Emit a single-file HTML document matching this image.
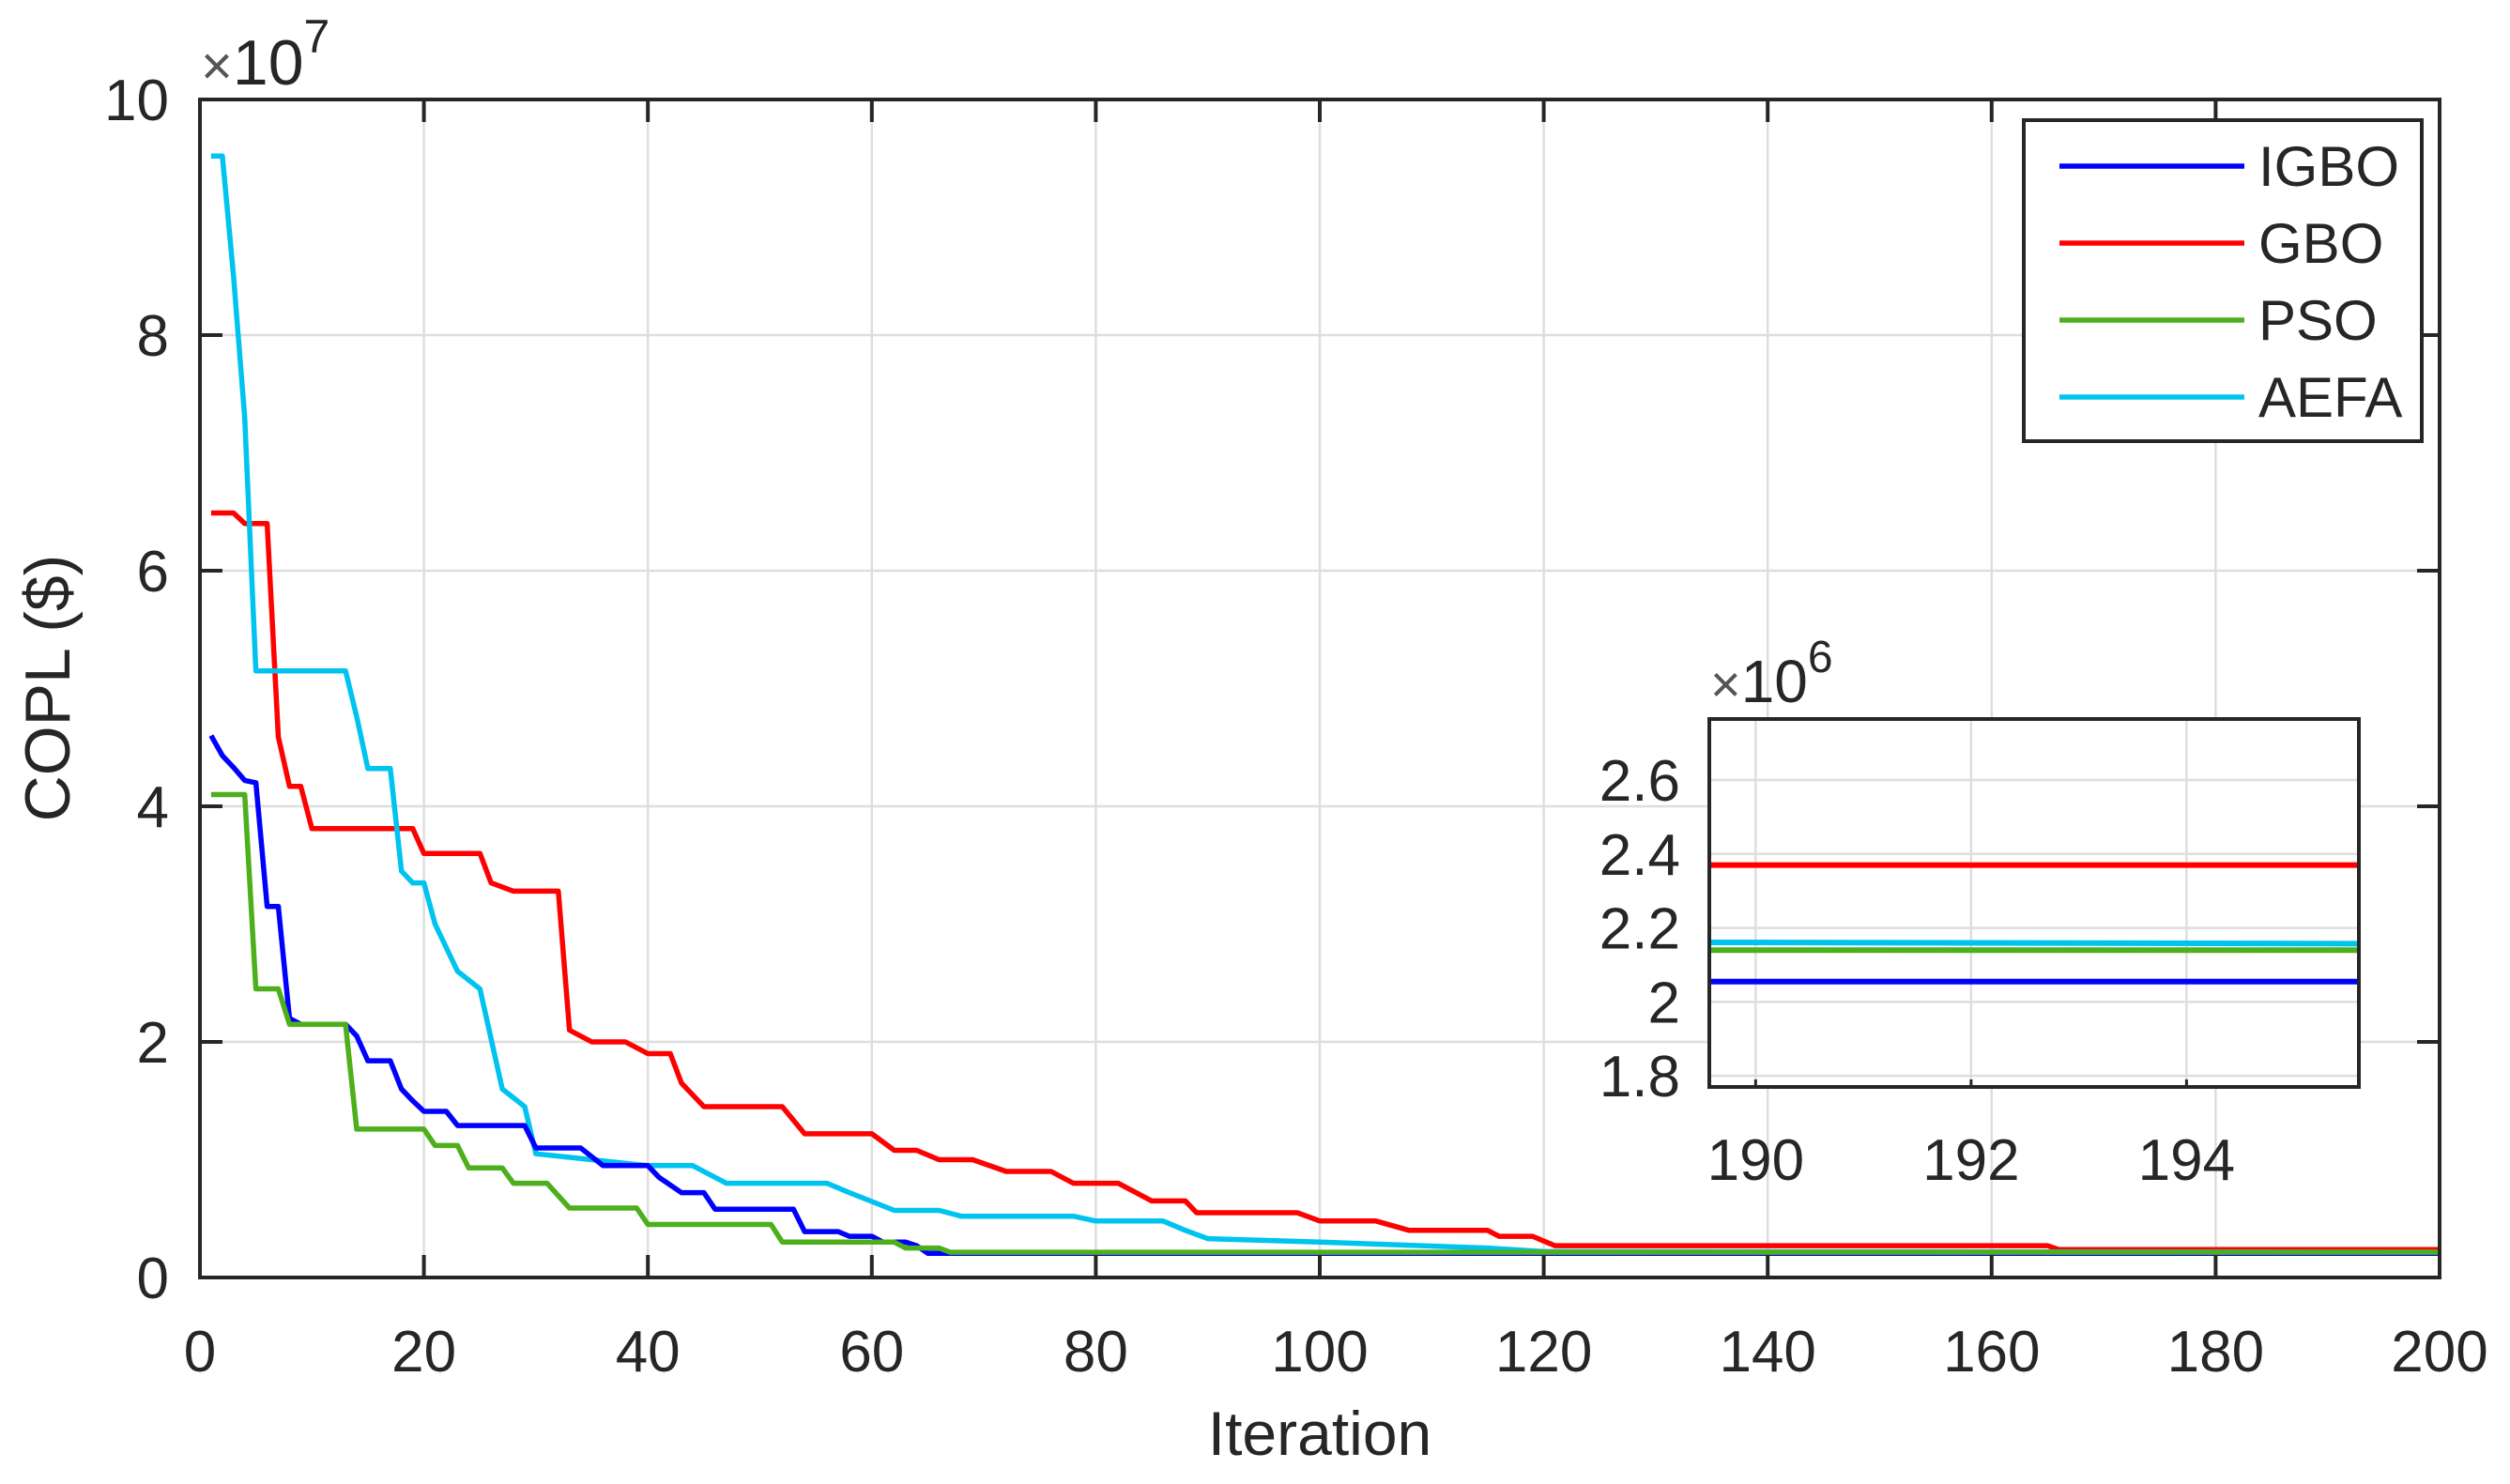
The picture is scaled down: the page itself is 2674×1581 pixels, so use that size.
<!DOCTYPE html>
<html><head><meta charset="utf-8"><style>
html,body{margin:0;padding:0;background:#fff;}
svg{display:block;font-family:"Liberation Sans",Arial,sans-serif;}
</style></head><body>
<svg id="chart" width="2674" height="1581" viewBox="0 0 2674 1581" xmlns="http://www.w3.org/2000/svg">
<rect x="0" y="0" width="2674" height="1581" fill="#fff"/>
<g id="grid"></g>
<g id="series"></g>
<g id="axes"></g>
<g id="inset"></g>
<g id="legend"></g>
</svg>
<script>
// ---- data (values in units of 1e7) ----
const xTicks = [0,20,40,60,80,100,120,140,160,180,200];
const yTicks = [0,2,4,6,8,10];
const seriesNames = ["IGBO","GBO","PSO","AEFA"];
const seriesColors = ["#0000ff","#ff0000","#4daf1c","#00c3f0"];
const igboIter = [1,2,3,4,5,6,7,8,9,13,14,15,17,18,19,20,22,23,29,30,34,36,40,41,43,45,46,53,54,57,58,60,61,63,64,65,200];
const igboVal  = [4.6,4.43,4.33,4.22,4.2,3.15,3.15,2.2,2.15,2.15,2.05,1.84,1.84,1.6,1.5,1.41,1.41,1.29,1.29,1.1,1.1,0.95,0.95,0.85,0.72,0.72,0.58,0.58,0.39,0.39,0.35,0.35,0.3,0.3,0.27,0.2055,0.2055];
const gboIter = [1,3,4,6,7,8,9,10,19,20,25,26,28,32,33,35,38,40,42,43,45,52,54,60,62,64,66,69,72,76,78,82,85,88,89,98,100,105,108,115,116,119,121,165,166,200];
const gboVal  = [6.49,6.49,6.4,6.4,4.59,4.17,4.17,3.81,3.81,3.6,3.6,3.35,3.28,3.28,2.1,2.0,2.0,1.9,1.9,1.65,1.45,1.45,1.22,1.22,1.08,1.08,1.0,1.0,0.9,0.9,0.8,0.8,0.65,0.65,0.55,0.55,0.48,0.48,0.4,0.4,0.35,0.35,0.27,0.27,0.237,0.237];
const psoIter = [1,4,5,7,8,13,14,20,21,23,24,27,28,31,33,39,40,51,52,62,63,66,67,200];
const psoVal  = [4.1,4.1,2.45,2.45,2.15,2.15,1.26,1.26,1.12,1.12,0.93,0.93,0.8,0.8,0.59,0.59,0.45,0.45,0.3,0.3,0.25,0.25,0.214,0.214];
const aefaIter = [1,2,3,4,5,13,14,15,17,18,19,20,21,23,25,27,29,30,35,40,44,46,47,56,58,62,66,68,78,80,86,88,90,100,115,120,200];
const aefaVal  = [9.52,9.52,8.5,7.3,5.15,5.15,4.76,4.32,4.32,3.45,3.35,3.35,3.0,2.6,2.45,1.6,1.45,1.05,1.0,0.95,0.95,0.85,0.8,0.8,0.72,0.57,0.57,0.52,0.52,0.48,0.48,0.4,0.33,0.3,0.25,0.22,0.2155];
const insetXTicks = [190,192,194];
const insetYTicks = [1.8,2.0,2.2,2.4,2.6];
const insetYLabels = ["1.8","2","2.2","2.4","2.6"];

const NS="http://www.w3.org/2000/svg";
function mk(tag, attrs, parent){const e=document.createElementNS(NS,tag);for(const k in attrs)e.setAttribute(k,attrs[k]);parent.appendChild(e);return e;}
const L=213,R=2599,T=106,B=1361;
const X=v=>L+(v-0)/200*(R-L);
const Y=v=>B-(v/10)*(B-T);
const grid=document.getElementById('grid'),axes=document.getElementById('axes'),ser=document.getElementById('series'),ins=document.getElementById('inset'),leg=document.getElementById('legend');
const FS=62;

xTicks.forEach(t=>{if(t>0&&t<200){const l=mk('line',{x1:X(t),x2:X(t),y1:T,y2:B,stroke:'#dedede','stroke-width':2.5},grid);

}});
yTicks.forEach(t=>{if(t>0&&t<10){const l=mk('line',{x1:L,x2:R,y1:Y(t),y2:Y(t),stroke:'#dedede','stroke-width':2.5},grid);

}});

const allIter=[igboIter,gboIter,psoIter,aefaIter], allVal=[igboVal,gboVal,psoVal,aefaVal];
function pathFor(it,va,xf,yf){return it.map((x,i)=>(i?'L':'M')+xf(x).toFixed(1)+','+yf(va[i]).toFixed(1)).join(' ');}
[1,3,0,2].forEach(s=>{const p=mk('path',{d:pathFor(allIter[s],allVal[s],X,Y),fill:'none',stroke:seriesColors[s],'stroke-width':5.5,'stroke-linejoin':'round'},ser);

});

const box=mk('rect',{x:L,y:T,width:R-L,height:B-T,fill:'none',stroke:'#262626','stroke-width':4},axes);


xTicks.forEach(t=>{
 mk('line',{x1:X(t),x2:X(t),y1:B,y2:B-24,stroke:'#262626','stroke-width':4},axes);
 mk('line',{x1:X(t),x2:X(t),y1:T,y2:T+24,stroke:'#262626','stroke-width':4},axes);
 const tx=mk('text',{x:X(t),y:1461,'font-size':FS,'text-anchor':'middle',fill:'#262626'},axes);tx.textContent=t;
 
 
});
yTicks.forEach(t=>{
 mk('line',{x1:L,x2:L+24,y1:Y(t),y2:Y(t),stroke:'#262626','stroke-width':4},axes);
 mk('line',{x1:R,x2:R-24,y1:Y(t),y2:Y(t),stroke:'#262626','stroke-width':4},axes);
 const tx=mk('text',{x:180,y:Y(t)+22,'font-size':FS,'text-anchor':'end',fill:'#262626'},axes);tx.textContent=t;
 
 
});
const xt=mk('text',{x:(L+R)/2,y:1550,'font-size':66,'text-anchor':'middle',fill:'#262626'},axes);xt.textContent='Iteration';


const yt=mk('text',{x:0,y:0,'font-size':68,'text-anchor':'middle',fill:'#262626',transform:'translate(74,733) rotate(-90)'},axes);yt.textContent='COPL ($)';


const ex=mk('text',{x:214,y:90,'font-size':68,fill:'#262626'},axes);


ex.innerHTML='<tspan font-size="58" fill="#555">×</tspan>10<tspan dy="-34" font-size="50">7</tspan>';

const IL=1821,IR=2513,IT=766,IB=1158, IX0=189.57, IX1=195.6, IY0=1.77, IY1=2.765;
const IXf=v=>IL+(v-IX0)/(IX1-IX0)*(IR-IL);
const IYf=v=>IB-(v-IY0)/(IY1-IY0)*(IB-IT);
const ibg=mk('rect',{x:IL,y:IT,width:IR-IL,height:IB-IT,fill:'#fff'},ins);


insetXTicks.forEach(t=>{mk('line',{x1:IXf(t),x2:IXf(t),y1:IT,y2:IB,stroke:'#dedede','stroke-width':2.5},ins);
 mk('line',{x1:IXf(t),x2:IXf(t),y1:IB,y2:IB-8,stroke:'#262626','stroke-width':3},ins);
 const tx=mk('text',{x:IXf(t),y:1257,'font-size':FS,'text-anchor':'middle',fill:'#262626'},ins);tx.textContent=t;
 
 });
insetYTicks.forEach((t,i)=>{mk('line',{x1:IL,x2:IR,y1:IYf(t),y2:IYf(t),stroke:'#dedede','stroke-width':2.5},ins);
 const tx=mk('text',{x:1790,y:IYf(t)+22,'font-size':FS,'text-anchor':'end',fill:'#262626'},ins);tx.textContent=insetYLabels[i];
 
 });
function valueAt(it,va,x){for(let i=1;i<it.length;i++){if(x<=it[i]){const f=(x-it[i-1])/(it[i]-it[i-1]);return va[i-1]+f*(va[i]-va[i-1]);}}return va[va.length-1];}
[1,3,2,0].forEach(s=>{
 const a=valueAt(allIter[s],allVal[s],IX0)*10, b=valueAt(allIter[s],allVal[s],IX1)*10;
 const l=mk('line',{x1:IL,x2:IR,y1:IYf(a),y2:IYf(b),stroke:seriesColors[s],'stroke-width':6},ins);
 
 
});
const ibox=mk('rect',{x:IL,y:IT,width:IR-IL,height:IB-IT,fill:'none',stroke:'#262626','stroke-width':4},ins);


const iex=mk('text',{x:1822,y:748,'font-size':64,fill:'#262626'},ins);


iex.innerHTML='<tspan font-size="56" fill="#555">×</tspan>10<tspan dy="-32" font-size="48">6</tspan>';

const lb=mk('rect',{x:2156,y:128,width:424,height:342,fill:'#fff',stroke:'#262626','stroke-width':4},leg);


const legY=[177,259,341,423];
seriesNames.forEach((n,i)=>{
 const g=mk('g',{},leg);
 
 
 mk('line',{x1:2194,x2:2391,y1:legY[i],y2:legY[i],stroke:seriesColors[i],'stroke-width':5.5},g);
 const t=mk('text',{x:2406,y:legY[i]+21,'font-size':60,fill:'#262626'},g);t.textContent=n;
});
</script>
</body></html>
